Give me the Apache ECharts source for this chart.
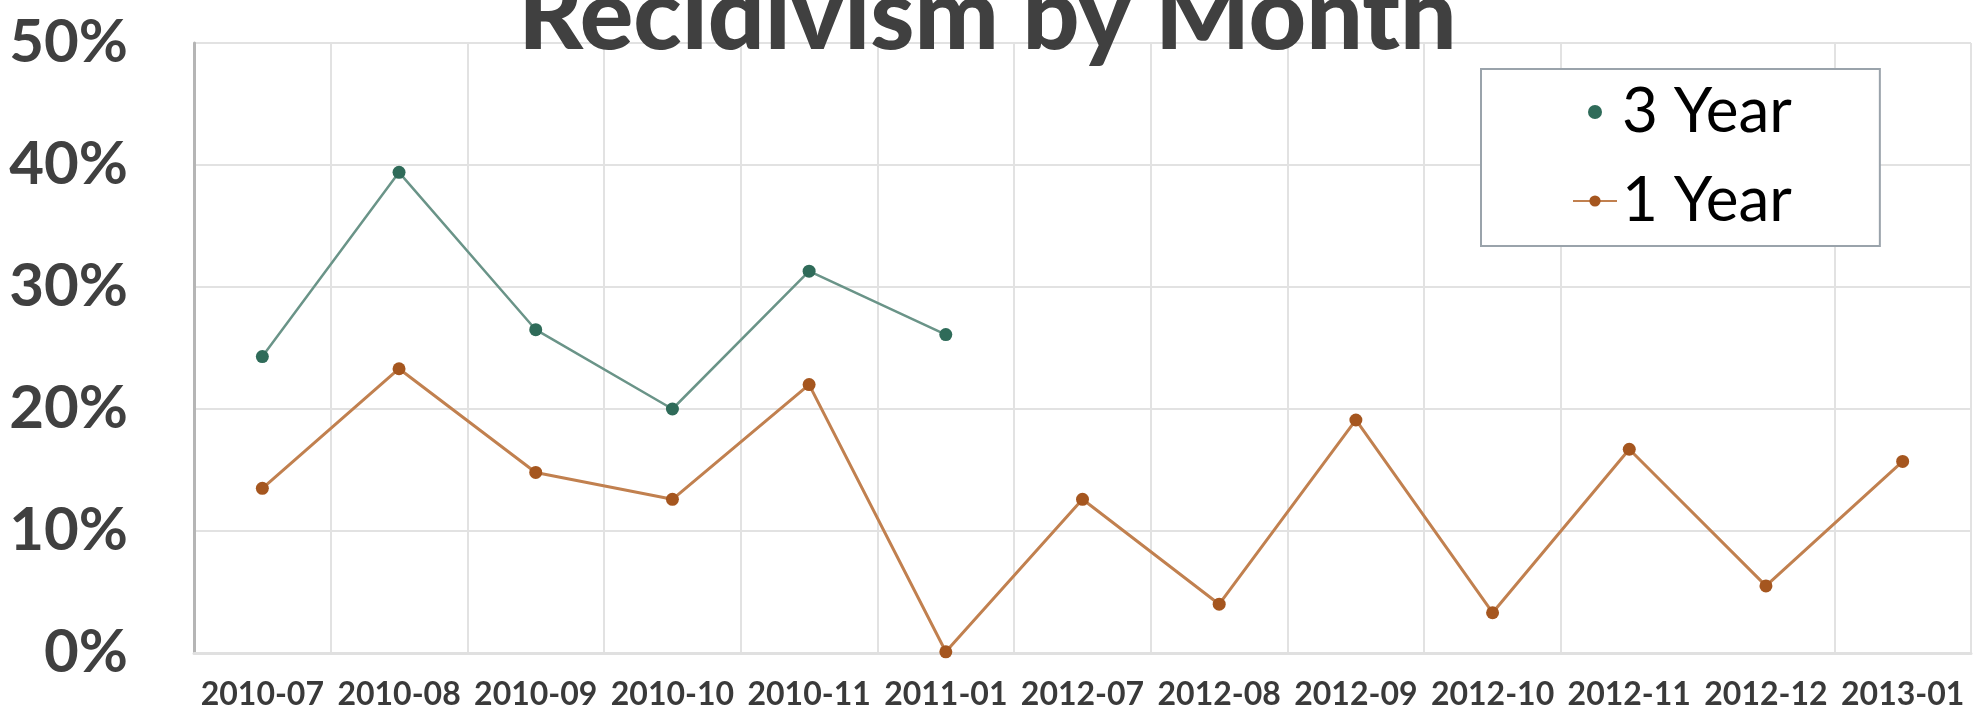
<!DOCTYPE html>
<html>
<head>
<meta charset="utf-8">
<script src="https://cdn.jsdelivr.net/npm/echarts@6/dist/echarts.min.js"></script>
<style>
  html, body { margin: 0; padding: 0; background: #fff; }
  #recidivismChart { width: 1975px; height: 714px; }
</style>
</head>
<body>
<div id="recidivismChart"></div>
<script>
// 月份类目
var months = ['2010-07', '2010-08', '2010-09', '2010-10', '2010-11', '2011-01',
  '2012-07', '2012-08', '2012-09', '2012-10', '2012-11', '2012-12', '2013-01']
// 3年再犯率（只有前6个月）
var threeYear = [24.3, 39.4, 26.5, 20.0, 31.3, 26.1]
// 1年再犯率
var oneYear = [13.5, 23.3, 14.8, 12.6, 22.0, 0.1, 12.6, 4.0, 19.1, 3.3, 16.7, 5.5, 15.7]
// y轴刻度
var yTicks = [0, 10, 20, 30, 40, 50]

var chart = echarts.init(document.getElementById('recidivismChart'))
chart.setOption({
  animation: false,
  title: {
    text: 'Recidivism by Month',
    left: 'center',
    top: -38,
    textStyle: {
      fontFamily: 'Lato',
      fontWeight: 900,
      fontSize: 100,
      color: '#404040'
    }
  },
  grid: {
    left: 194,
    right: 4,
    top: 43,
    bottom: 61
  },
  legend: {
    left: 1481,
    top: 69,
    orient: 'vertical',
    padding: [12, 88, 14, 91],
    itemGap: 27,
    itemWidth: 44,
    itemHeight: 14,
    backgroundColor: '#fff',
    borderColor: '#9aa3ab',
    borderWidth: 2,
    textStyle: {
      fontFamily: 'Lato',
      fontSize: 62,
      color: '#000'
    },
    data: [{ name: '3 Year', icon: 'circle' }, { name: '1 Year' }]
  },
  xAxis: {
    type: 'category',
    data: months,
    axisLine: { lineStyle: { color: '#e0e0e0', width: 3 } },
    axisTick: { show: false },
    splitLine: {
      show: true,
      // 2012-11 与 2012-12 之间原图没有竖线
      interval: function (index) { return index !== 11 },
      lineStyle: { color: '#e2e2e2', width: 2 }
    },
    axisLabel: {
      interval: 0,
      margin: 26,
      fontFamily: 'Lato',
      fontWeight: 'bold',
      fontSize: 32,
      color: '#3a3a3a'
    }
  },
  yAxis: {
    type: 'value',
    min: yTicks[0],
    max: yTicks[yTicks.length - 1],
    interval: 10,
    axisLine: { show: true, lineStyle: { color: '#b5b5b5', width: 3 } },
    axisTick: { show: false },
    splitLine: { lineStyle: { color: '#e2e2e2', width: 2 } },
    axisLabel: {
      margin: 66,
      formatter: '{value}%',
      fontFamily: 'Lato',
      fontWeight: 'bold',
      fontSize: 60,
      color: '#404040'
    }
  },
  series: [{
    name: '3 Year',
    type: 'line',
    data: threeYear,
    symbol: 'circle',
    symbolSize: 13,
    itemStyle: { color: '#2f6b59' },
    lineStyle: { color: '#6a9488', width: 2.5 },
    z: 3
  }, {
    name: '1 Year',
    type: 'line',
    data: oneYear,
    symbol: 'circle',
    symbolSize: 13,
    itemStyle: { color: '#a5561f' },
    lineStyle: { color: '#c1804f', width: 3 },
    z: 2
  }]
})
</script>
</body>
</html>
